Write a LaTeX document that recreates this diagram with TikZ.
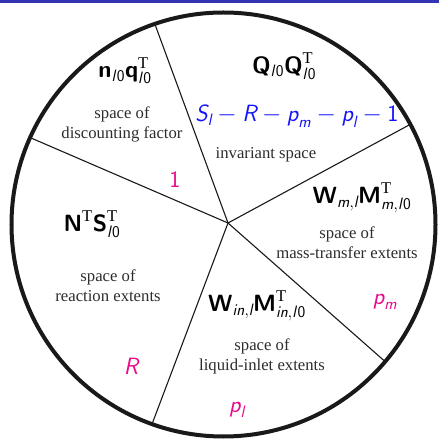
\documentclass[tikz,border=0pt]{standalone}
\usepackage{amsmath}
\usepackage{fontspec}
\setmainfont{Liberation Serif}
\usetikzlibrary{calc}
\definecolor{barblue}{RGB}{51,51,179}
\definecolor{labblue}{RGB}{20,20,250}
\definecolor{labpink}{RGB}{232,10,140}
\definecolor{txtgray}{RGB}{45,45,45}
\newcommand\bv[1]{\text{\sffamily\bfseries #1}}
\newcommand\iv[1]{\text{\sffamily\itshape #1}}
\newcommand\uv[1]{\text{\sffamily #1}}
\newcommand\lz{\iv{l}\mkern1.5mu\uv{0}}
\newcommand\tr{\mathrm{T}}
\begin{document}
\begin{tikzpicture}[x=1pt,y=1pt,
  lbl/.style={font=\fontsize{16.7}{20}\selectfont, align=center, inner sep=0pt, text=txtgray},
  mth/.style={font=\fontsize{23.5}{27}\selectfont, inner sep=0pt},
  rim/.style={line width=4pt, draw=black!90},
  spoke/.style={line width=1.1pt, draw=black!90}]
\useasboundingbox (0,0) rectangle (439,439);
\fill[barblue] (0,436) rectangle (439,439);
\coordinate (c) at (223.5,214.5);
\coordinate (hub) at (228,216);
\foreach \a/\n in {108.9/a,155.8/b,28.2/c,-40.3/d,250.3/e}
  \coordinate (e\n) at ($(c)+(\a:212)$);
\foreach \n in {a,b,c,d,e} \draw[spoke] (hub) -- (e\n);
\draw[rim] (c) circle[radius=212];
% discounting factor sector
\node[mth] (nq) at (125,368) {$\bv{n}_{\lz}\bv{q}^{\tr}_{\lz}$};
\node[lbl] (df) at (122,315) {space of\\discounting factor};
% invariant sector
\node[mth] (QQ) at (284,373) {$\bv{Q}_{\lz}\bv{Q}^{\tr}_{\lz}$};
\node[mth, text=labblue] (dimq) at (297,323) {$\iv{S}_{\iv{l}} - \iv{R} - \iv{p}_{\iv{m}} - \iv{p}_{\iv{l}} - \uv{1}$};
\node[lbl] (inv) at (266,284) {invariant space};
% mass transfer sector
\node[mth] (WMm) at (362,241) {$\bv{W}_{\iv{m},\iv{l}}\bv{M}^{\tr}_{\iv{m},\lz}$};
\node[lbl] (mt) at (347,196) {space of\\mass-transfer extents};
\node[mth, text=labpink] (pm) at (385,137) {$\iv{p}_{\iv{m}}$};
% liquid inlet sector
\node[mth] (WMin) at (257,133) {$\bv{W}_{\iv{in},\iv{l}}\bv{M}^{\tr}_{\iv{in},\lz}$};
\node[lbl] (li) at (262,83) {space of\\liquid-inlet extents};
\node[mth, text=labpink] (pl) at (237,29) {$\iv{p}_{\iv{l}}$};
% reaction sector
\node[mth] (NS) at (92,215) {$\bv{N}^{\tr}\bv{S}^{\tr}_{\lz}$};
\node[lbl] (re) at (108,153) {space of\\reaction extents};
\node[mth, text=labpink] (one) at (175,259) {$\uv{1}$};
\node[mth, text=labpink] (R) at (131,73) {$\iv{R}$};
\end{tikzpicture}
\end{document}
